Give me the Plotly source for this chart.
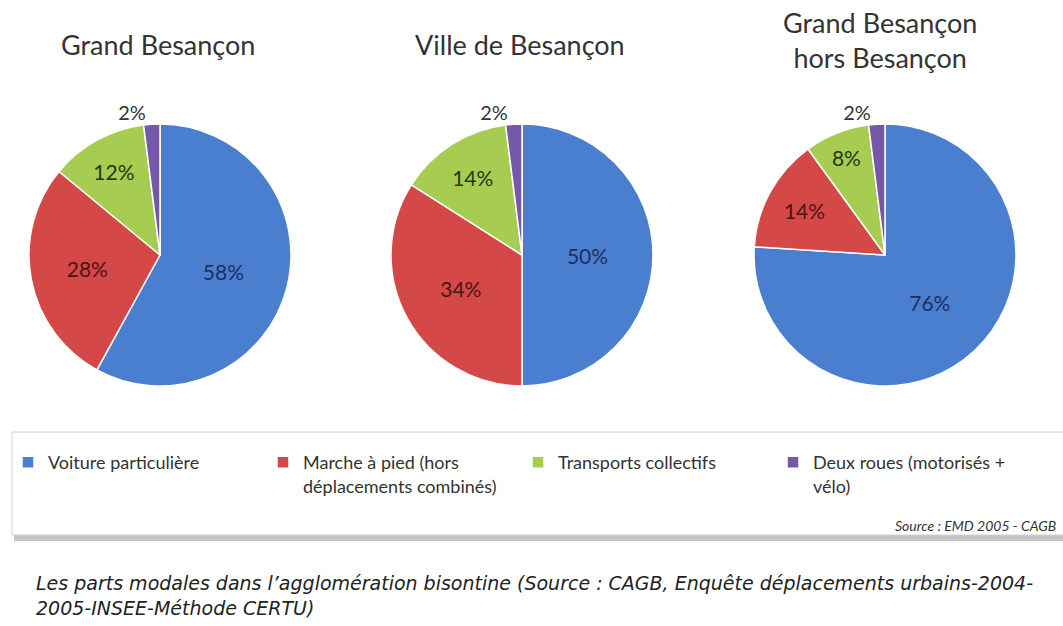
import plotly.graph_objects as go

categories = ["Voiture particulière", "Marche à pied (hors<br>déplacements combinés)",
              "Transports collectifs", "Deux roues (motorisés +<br>vélo)"]
titles = ["Grand Besançon", "Ville de Besançon", "Grand Besançon<br>hors Besançon"]
grand_besancon = [58, 28, 12, 2]
ville_besancon = [50, 34, 14, 2]
hors_besancon = [76, 14, 8, 2]
series = [grand_besancon, ville_besancon, hors_besancon]

colors = ["#4a7fd0", "#d44848", "#a6cc52", "#7558a8"]
text_colors = ["#1c2f63", "#4a1414", "#26380e", "#333333"]
FONT = "Lato, 'Open Sans', sans-serif"

W, H = 1063, 626
centers = [160, 522, 885]
cy = 255
R = 131

fig = go.Figure()
for i, vals in enumerate(series):
    cx = centers[i]
    fig.add_trace(go.Pie(
        labels=categories, values=vals, sort=False, direction="clockwise", rotation=0,
        marker=dict(colors=colors, line=dict(color="white", width=1.5)),
        texttemplate="%{value}%", textposition=["inside", "inside", "inside", "outside"],
        insidetextorientation="horizontal",
        textfont=dict(family=FONT, size=21, color=text_colors),
        outsidetextfont=dict(family=FONT, size=20, color="#333333"),
        domain=dict(x=[(cx - R) / W, (cx + R) / W], y=[1 - (cy + R) / H, 1 - (cy - R) / H]),
        showlegend=(i == 0), hoverinfo="label+percent",
    ))

ann = []
title_y = [44, 44, 40]
title_x = [158, 520, 880]
for i, t in enumerate(titles):
    ann.append(dict(text=t, x=title_x[i] / W, y=1 - title_y[i] / H, xref="paper", yref="paper",
                    showarrow=False, font=dict(family=FONT, size=27, color="#333333"),
                    xanchor="center", yanchor="middle"))
ann.append(dict(text="<i>Source : EMD 2005 - CAGB</i>", x=1058 / W, y=1 - 525 / H, xref="paper", yref="paper",
                showarrow=False, xanchor="right", yanchor="middle",
                font=dict(family=FONT, size=14, color="#333333")))
ann.append(dict(text="<i>Les parts modales dans l’agglomération bisontine (Source : CAGB, Enquête déplacements urbains-2004-<br>2005-INSEE-Méthode CERTU)</i>",
                x=34 / W, y=1 - 595 / H, xref="paper", yref="paper", showarrow=False,
                xanchor="left", yanchor="middle", align="left",
                font=dict(family="DejaVu Sans", size=19, color="#222222")))

shapes = [
    dict(type="rect", xref="paper", yref="paper", x0=14 / W, x1=1.02, y0=1 - 541 / H, y1=1 - 436 / H,
         line=dict(width=0), fillcolor="#c4c4c4", layer="below"),
    dict(type="rect", xref="paper", yref="paper", x0=12 / W, x1=1.02, y0=1 - 535 / H, y1=1 - 432 / H,
         line=dict(color="#d0d0d0", width=1), fillcolor="white", layer="below"),
]

fig.update_layout(
    width=W, height=H, margin=dict(l=0, r=0, t=0, b=0),
    paper_bgcolor="white", plot_bgcolor="white",
    font=dict(family=FONT, color="#333333"),
    annotations=ann, shapes=shapes,
    legend=dict(orientation="h", x=8 / W, y=1 - 444 / H, xanchor="left", yanchor="top",
                entrywidth=210, entrywidthmode="pixels", bgcolor="rgba(0,0,0,0)",
                font=dict(family=FONT, size=18, color="#333333"), valign="top",
                traceorder="normal"),
)

fig.write_html("out.html", config={"displayModeBar": False},
               post_script="document.body.style.margin='0';document.body.style.overflow='hidden';")
